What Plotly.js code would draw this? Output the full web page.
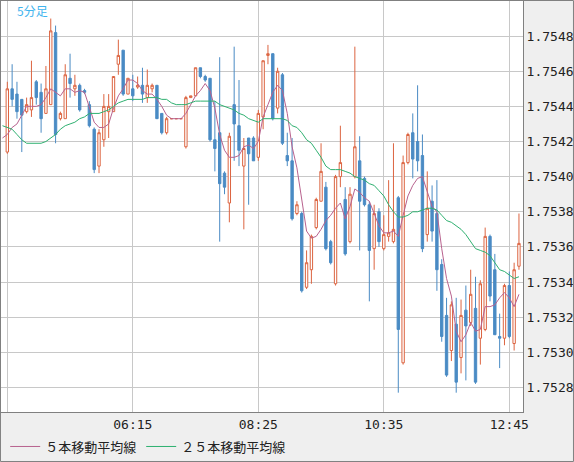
<!DOCTYPE html>
<html>
<head>
<meta charset="utf-8">
<script src="https://cdn.plot.ly/plotly-3.0.1.min.js"></script>
<style>html,body{margin:0;padding:0;background:#efefef;}#chart{width:574px;height:462px;}</style>
</head>
<body>
<div id="chart"></div>
<script>
const day = '2024-01-15';
const times = ['04:05','04:10','04:15','04:20','04:25','04:30','04:35','04:40','04:45','04:50',
'04:55','05:00','05:05','05:10','05:15','05:20','05:25','05:30','05:35','05:40',
'05:45','05:50','05:55','06:00','06:05','06:10','06:15','06:20','06:25','06:30',
'06:35','06:40','06:45','06:50','06:55','07:00','07:05','07:10','07:15','07:20',
'07:25','07:30','07:35','07:40','07:45','07:50','07:55','08:00','08:05','08:10',
'08:15','08:20','08:25','08:30','08:35','08:40','08:45','08:50','08:55','09:00',
'09:05','09:10','09:15','09:20','09:25','09:30','09:35','09:40','09:45','09:50',
'09:55','10:00','10:05','10:10','10:15','10:20','10:25','10:30','10:35','10:40',
'10:45','10:50','10:55','11:00','11:05','11:10','11:15','11:20','11:25','11:30',
'11:35','11:40','11:45','11:50','11:55','12:00','12:05','12:10','12:15','12:20',
'12:25','12:30','12:35','12:40','12:45','12:50','12:55'];

const openP = [1.75414,1.75450,1.75447,1.75444,1.75437,1.75438,1.75454,1.75448,1.75436,1.75441,
1.75482,1.75433,1.75433,1.75456,1.75450,1.75452,1.75449,1.75441,1.75427,1.75406,
1.75421,1.75437,1.75437,1.75464,1.75472,1.75447,1.75450,1.75451,1.75452,1.75445,
1.75450,1.75452,1.75436,1.75425,1.75433,1.75433,1.75433,1.75417,1.75445,1.75446,
1.75462,1.75457,1.75456,1.75421,1.75425,1.75402,1.75385,1.75441,1.75429,1.75406,
1.75422,1.75422,1.75411,1.75434,1.75469,1.75470,1.75439,1.75458,1.75412,1.75409,
1.75379,1.75379,1.75337,1.75347,1.75371,1.75386,1.75394,1.75363,1.75339,1.75400,
1.75387,1.75363,1.75400,1.75409,1.75399,1.75384,1.75359,1.75380,1.75359,1.75366,
1.75363,1.75388,1.75294,1.75408,1.75425,1.75420,1.75412,1.75367,1.75386,1.75379,
1.75350,1.75321,1.75301,1.75316,1.75297,1.75324,1.75317,1.75325,1.75308,1.75313,
1.75366,1.75347,1.75309,1.75308,1.75338,1.75305,1.75349];

const highP = [1.75454,1.75464,1.75454,1.75444,1.75445,1.75466,1.75455,1.75453,1.75463,1.75490,
1.75486,1.75437,1.75464,1.75470,1.75458,1.75453,1.75450,1.75443,1.75428,1.75427,
1.75447,1.75447,1.75457,1.75478,1.75472,1.75456,1.75458,1.75457,1.75462,1.75461,
1.75453,1.75452,1.75436,1.75434,1.75433,1.75433,1.75433,1.75446,1.75446,1.75462,
1.75462,1.75458,1.75456,1.75443,1.75468,1.75403,1.75425,1.75474,1.75455,1.75422,
1.75422,1.75423,1.75438,1.75466,1.75475,1.75470,1.75462,1.75459,1.75425,1.75422,
1.75386,1.75380,1.75358,1.75367,1.75388,1.75419,1.75397,1.75364,1.75401,1.75429,
1.75394,1.75394,1.75474,1.75423,1.75400,1.75386,1.75384,1.75382,1.75378,1.75398,
1.75419,1.75389,1.75412,1.75425,1.75436,1.75452,1.75424,1.75403,1.75395,1.75398,
1.75353,1.75331,1.75329,1.75331,1.75330,1.75338,1.75347,1.75343,1.75341,1.75371,
1.75367,1.75356,1.75322,1.75339,1.75346,1.75351,1.75379];

const lowP = [1.75413,1.75440,1.75433,1.75414,1.75436,1.75434,1.75441,1.75425,1.75436,1.75441,
1.75419,1.75432,1.75433,1.75445,1.75446,1.75437,1.75447,1.75428,1.75402,1.75402,
1.75417,1.75422,1.75437,1.75458,1.75446,1.75447,1.75443,1.75450,1.75442,1.75442,
1.75448,1.75433,1.75424,1.75424,1.75433,1.75433,1.75433,1.75416,1.75445,1.75446,
1.75456,1.75454,1.75420,1.75403,1.75363,1.75390,1.75374,1.75409,1.75406,1.75370,
1.75384,1.75409,1.75409,1.75427,1.75464,1.75432,1.75436,1.75418,1.75406,1.75375,
1.75378,1.75334,1.75336,1.75339,1.75370,1.75386,1.75358,1.75350,1.75338,1.75394,
1.75355,1.75362,1.75399,1.75358,1.75383,1.75329,1.75347,1.75360,1.75358,1.75363,
1.75362,1.75277,1.75293,1.75407,1.75399,1.75403,1.75357,1.75363,1.75363,1.75335,
1.75306,1.75286,1.75295,1.75277,1.75288,1.75284,1.75315,1.75282,1.75293,1.75312,
1.75329,1.75310,1.75291,1.75304,1.75308,1.75301,1.75347];

const closeP = [1.75450,1.75444,1.75437,1.75435,1.75441,1.75445,1.75445,1.75433,1.75450,1.75483,
1.75424,1.75436,1.75458,1.75453,1.75452,1.75438,1.75448,1.75429,1.75404,1.75425,
1.75440,1.75440,1.75457,1.75469,1.75447,1.75456,1.75446,1.75452,1.75447,1.75452,
1.75452,1.75433,1.75425,1.75433,1.75433,1.75433,1.75433,1.75445,1.75446,1.75462,
1.75457,1.75455,1.75421,1.75416,1.75396,1.75394,1.75423,1.75430,1.75415,1.75416,
1.75413,1.75409,1.75436,1.75466,1.75470,1.75433,1.75460,1.75419,1.75409,1.75376,
1.75384,1.75335,1.75351,1.75366,1.75387,1.75403,1.75359,1.75351,1.75400,1.75408,
1.75356,1.75390,1.75417,1.75386,1.75384,1.75358,1.75379,1.75363,1.75367,1.75368,
1.75370,1.75313,1.75408,1.75424,1.75410,1.75409,1.75359,1.75382,1.75369,1.75347,
1.75309,1.75287,1.75327,1.75283,1.75321,1.75315,1.75333,1.75283,1.75339,1.75366,
1.75332,1.75310,1.75308,1.75338,1.75309,1.75347,1.75362];

const maTimes = ['04:00'].concat(times);
const ma5 = [1.75422,1.75424,1.75428,1.75430,1.75435,1.75440,1.75440,1.75440,1.75441,1.75445,1.75450,
1.75448,1.75446,1.75450,1.75450,1.75448,1.75449,1.75448,1.75439,1.75431,1.75428,
1.75428,1.75430,1.75439,1.75446,1.75450,1.75455,1.75455,1.75453,1.75449,1.75447,
1.75447,1.75444,1.75440,1.75435,1.75433,1.75433,1.75433,1.75436,1.75441,1.75446,
1.75449,1.75453,1.75449,1.75439,1.75424,1.75415,1.75411,1.75411,1.75412,1.75417,
1.75418,1.75416,1.75420,1.75434,1.75441,1.75448,1.75452,1.75449,1.75436,1.75417,
1.75405,1.75388,1.75369,1.75365,1.75366,1.75370,1.75375,1.75378,1.75382,1.75385,
1.75376,1.75383,1.75393,1.75391,1.75388,1.75386,1.75379,1.75372,1.75368,1.75368,
1.75369,1.75366,1.75378,1.75389,1.75395,1.75399,1.75400,1.75392,1.75383,1.75380,
1.75359,1.75342,1.75332,1.75312,1.75306,1.75310,1.75317,1.75312,1.75313,1.75326,
1.75326,1.75327,1.75331,1.75334,1.75331,1.75326,1.75333];

const ma25 = [1.75429,1.75428,1.75427,1.75424,1.75421,1.75419,1.75419,1.75419,1.75419,1.75420,1.75422,
1.75424,1.75427,1.75429,1.75430,1.75431,1.75433,1.75434,1.75436,1.75436,1.75436,
1.75437,1.75438,1.75440,1.75442,1.75443,1.75444,1.75444,1.75444,1.75444,1.75445,
1.75445,1.75445,1.75444,1.75444,1.75442,1.75441,1.75441,1.75441,1.75442,1.75443,
1.75443,1.75443,1.75443,1.75443,1.75441,1.75440,1.75439,1.75438,1.75436,1.75435,
1.75433,1.75432,1.75431,1.75433,1.75433,1.75433,1.75433,1.75433,1.75432,1.75429,
1.75428,1.75425,1.75421,1.75419,1.75415,1.75411,1.75406,1.75404,1.75404,1.75404,
1.75403,1.75402,1.75400,1.75399,1.75398,1.75396,1.75395,1.75392,1.75389,1.75384,
1.75380,1.75377,1.75377,1.75378,1.75380,1.75380,1.75381,1.75382,1.75382,1.75381,
1.75378,1.75375,1.75374,1.75372,1.75370,1.75367,1.75363,1.75359,1.75358,1.75357,
1.75355,1.75351,1.75347,1.75346,1.75344,1.75342,1.75343];

const tickTimes = ['04:05','06:15','08:25','10:35','12:45'];
const tickLabels = ['','06:15','08:25','10:35','12:45'];
const chartTitle = '5分足';
const ma5Name = '５本移動平均線';
const ma25Name = '２５本移動平均線';

const xs = times.map(t => day + ' ' + t);
const maXs = maTimes.map(t => day + ' ' + t);

const traces = [
  {
    type: 'candlestick', x: xs, open: openP, high: highP, low: lowP, close: closeP,
    increasing: {line: {color: '#dc6440', width: 1}, fillcolor: '#ffffff'},
    decreasing: {line: {color: '#4a8bc4', width: 1}, fillcolor: '#4a8bc4'},
    whiskerwidth: 0, showlegend: false, hoverinfo: 'skip'
  },
  {type: 'scatter', mode: 'lines', x: maXs, y: ma5, name: ma5Name,
   line: {color: '#b8628e', width: 1}, hoverinfo: 'skip'},
  {type: 'scatter', mode: 'lines', x: maXs, y: ma25, name: ma25Name,
   line: {color: '#2eb070', width: 1}, hoverinfo: 'skip'}
];

const layout = {
  width: 574, height: 462,
  margin: {l: 1, r: 51, t: 1, b: 50, pad: 0},
  paper_bgcolor: '#efefef', plot_bgcolor: '#ffffff',
  showlegend: true,
  font: {family: 'DejaVu Sans Mono, monospace', size: 13, color: '#222222'},
  xaxis: {
    type: 'date',
    range: [day + ' 03:58:28', day + ' 12:59:11'],
    rangeslider: {visible: false},
    tickvals: tickTimes.map(t => day + ' ' + t),
    ticktext: tickLabels,
    showgrid: true, gridcolor: '#c8c8c8', gridwidth: 1,
    showline: true, linecolor: '#808080', linewidth: 1, mirror: true,
    ticks: '', zeroline: false, fixedrange: true,
    tickfont: {family: 'DejaVu Sans Mono, monospace', size: 13, color: '#222222'}
  },
  yaxis: {
    side: 'right',
    range: [1.75266, 1.75500],
    dtick: 0.0002, tick0: 1.7528, tickformat: '.4f',
    showgrid: true, gridcolor: '#c8c8c8', gridwidth: 1,
    showline: true, linecolor: '#808080', linewidth: 1, mirror: true,
    ticks: '', zeroline: false, fixedrange: true,
    tickfont: {family: 'DejaVu Sans Mono, monospace', size: 13, color: '#222222'}
  },
  legend: {
    orientation: 'h', x: 0.008, xanchor: 'left', y: -0.084, yanchor: 'middle',
    bgcolor: 'rgba(0,0,0,0)', borderwidth: 0,
    font: {family: 'Noto Sans CJK JP', size: 13, color: '#222222'}
  },
  annotations: [{
    text: chartTitle, xref: 'paper', yref: 'paper', x: 0.027, y: 0.978,
    xanchor: 'left', yanchor: 'middle', showarrow: false,
    font: {family: 'Noto Sans CJK JP', size: 12, color: '#3fb4ee'}
  }],
  shapes: [{
    type: 'rect', xref: 'paper', yref: 'paper',
    x0: -0.001, x1: 1.0967, y0: -0.1204, y1: 1.0012,
    line: {color: '#808080', width: 1}, fillcolor: 'rgba(0,0,0,0)', layer: 'above'
  }]
};

Plotly.newPlot('chart', traces, layout, {staticPlot: true, displayModeBar: false});
</script>
</body>
</html>
